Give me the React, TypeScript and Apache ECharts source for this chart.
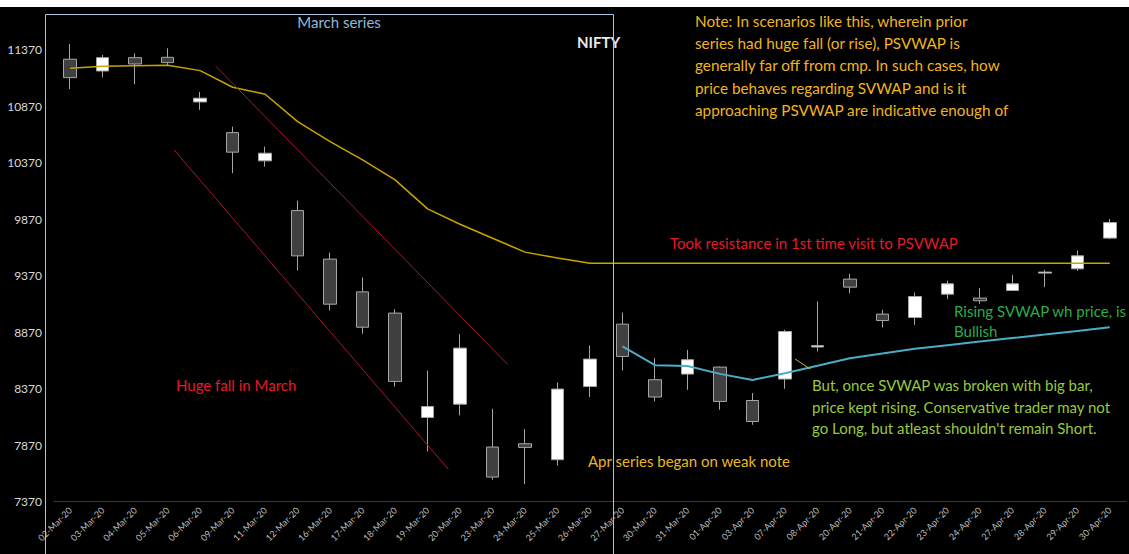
import React, { useEffect, useRef } from "react";
import * as echarts from "echarts";

const dates = [
  "02-Mar-20", "03-Mar-20", "04-Mar-20", "05-Mar-20", "06-Mar-20", "09-Mar-20", "11-Mar-20",
  "12-Mar-20", "16-Mar-20", "17-Mar-20", "18-Mar-20", "19-Mar-20", "20-Mar-20", "23-Mar-20",
  "24-Mar-20", "25-Mar-20", "26-Mar-20", "27-Mar-20", "30-Mar-20", "31-Mar-20", "01-Apr-20",
  "03-Apr-20", "07-Apr-20", "08-Apr-20", "20-Apr-20", "21-Apr-20", "22-Apr-20", "23-Apr-20",
  "24-Apr-20", "27-Apr-20", "28-Apr-20", "29-Apr-20", "30-Apr-20",
];

const opens = [
  11288, 11184, 11302, 11305, 10910, 10638, 10388, 9948, 9518, 9228, 9040, 8116, 8234, 7854,
  7883, 7742, 8390, 8942, 8450, 8500, 8562, 8266, 8456, 8740, 9341, 9031, 9001, 9208, 9173,
  9240, 9394, 9432, 9704,
];
const closes = [
  11125, 11302, 11246, 11258, 10943, 10465, 10456, 9547, 9119, 8915, 8435, 8213, 8730, 7588,
  7851, 8367, 8633, 8656, 8297, 8627, 8258, 8080, 8877, 8752, 9270, 8974, 9187, 9299, 9149,
  9299, 9403, 9547, 9842,
];
const lows = [
  11025, 11128, 11066, 11228, 10839, 10279, 10337, 9417, 9063, 8857, 8390, 7815, 8134, 7565,
  7527, 7689, 8296, 8532, 8258, 8361, 8184, 8051, 8370, 8700, 9217, 8912, 8936, 9166, 9122,
  9235, 9270, 9414, 9695,
];
const highs = [
  11423, 11326, 11341, 11385, 10998, 10691, 10514, 10036, 9576, 9355, 9075, 8532, 8854, 8193,
  8013, 8426, 8754, 9045, 8641, 8715, 8567, 8332, 8892, 9143, 9388, 9069, 9222, 9328, 9261,
  9379, 9423, 9594, 9874,
];

// Previous-series VWAP (yellow)
const psvwap = [
  11208, 11226, 11231, 11234, 11187, 11040, 10978, 10735, 10559, 10397, 10220, 9963, 9827,
  9703, 9580, 9527, 9482, 9482, 9482, 9482, 9482, 9482, 9482, 9482, 9482, 9482, 9482, 9482,
  9482, 9482, 9482, 9482, 9482,
];
// Current-series VWAP (cyan), starts with April series
const svwap = [
  null, null, null, null, null, null, null, null, null, null, null, null, null, null, null,
  null, null, 8746, 8579, 8572, 8502, 8448, 8508, 8574, 8641, 8683, 8725, 8756, 8788, 8819,
  8850, 8882, 8915,
];

// Hand-drawn trend lines (x = category index, y = price)
const trendUpper = [[4.48, 11226], [13.46, 8587]];
const trendLower = [[3.2, 10484], [11.64, 7657]];
const pointerLine = [[22.31, 8634], [22.79, 8543]];

const yMin = 7370;
const yMax = 11870;
const yStep = 500;

const noteLines = [
  "Note: In scenarios like this, wherein prior",
  "series had huge fall (or rise), PSVWAP is",
  "generally far off from cmp. In such cases, how",
  "price behaves regarding SVWAP and is it",
  "approaching PSVWAP are indicative enough of",
];
const butLines = [
  "But, once SVWAP was broken with big bar,",
  "price kept rising. Conservative trader may not",
  "go Long, but atleast shouldn't remain Short.",
];
const risingLines = ["Rising SVWAP wh price, is", "Bullish"];

const FONT = "Lato, 'Noto Sans', sans-serif";

function txt(text: string, x: number, y: number, fill: string, size = 15, extra: any = {}) {
  return {
    type: "text",
    x,
    y,
    z: 100,
    silent: true,
    style: {
      text,
      fill,
      font: `${extra.weight || "normal"} ${size}px ${FONT}`,
      align: extra.align || "left",
      textAlign: extra.align || "left",
      verticalAlign: "middle",
      textVerticalAlign: "middle",
    },
  };
}

export default function App() {
  const ref = useRef<HTMLDivElement>(null);

  useEffect(() => {
    if (!ref.current) return;
    const chart = echarts.init(ref.current, null, { renderer: "svg" });

    const candleData = dates.map((_, i) => [opens[i], closes[i], lows[i], highs[i]]);

    const graphics: any[] = [
      {
        type: "rect",
        z: 90,
        silent: true,
        shape: { x: 0, y: 0, width: 1129, height: 7 },
        style: { fill: "#ffffff" },
      },
      {
        type: "rect",
        z: 101,
        silent: true,
        shape: { x: 45.5, y: 14.5, width: 568, height: 545 },
        style: { fill: "none", stroke: "#a9c6de", lineWidth: 1 },
      },
      txt("March series", 339, 22, "#8fb8d8", 15, { align: "center" }),
      txt("NIFTY", 577, 42, "#e8e8e8", 15, { weight: "bold" }),
      ...noteLines.map((l, i) => txt(l, 695, 20.5 + i * 22.4, "#f0b41e", 15.3)),
      txt("Took resistance in 1st time visit to PSVWAP", 670, 243, "#e31b2b", 15),
      ...risingLines.map((l, i) => txt(l, 954, 311 + i * 20, "#2eaa4a", 15)),
      txt("Huge fall in March", 176, 385, "#e31b2b", 15),
      ...butLines.map((l, i) => txt(l, 812, 385 + i * 21.5, "#98c83e", 15)),
      txt("Apr series began on weak note", 588, 461, "#eab620", 15),
    ];

    chart.setOption({
      animation: false,
      backgroundColor: "#000000",
      grid: {
        left: 54,
        right: 3,
        top: -6.5,
        bottom: 52.3,
        containLabel: false,
        outerBoundsMode: "none",
      },
      xAxis: [
        {
          type: "category",
          data: dates,
          boundaryGap: true,
          axisLine: { show: true, lineStyle: { color: "#3a3a3a", width: 1 } },
          axisTick: { show: false },
          splitLine: { show: false },
          axisLabel: {
            interval: 0,
            rotate: 45,
            margin: 7,
            color: "#bdbdbd",
            fontSize: 9,
            fontFamily: FONT,
          },
        },
        {
          type: "value",
          show: false,
          min: -0.5,
          max: dates.length - 0.5,
          splitLine: { show: false },
        },
      ],
      yAxis: {
        type: "value",
        min: yMin,
        max: yMax,
        interval: yStep,
        axisLine: { show: false },
        axisTick: { show: false },
        splitLine: { show: false },
        axisLabel: {
          color: "#d9d9d9",
          fontSize: 12,
          fontFamily: FONT,
          margin: 12,
          showMaxLabel: false,
          formatter: (v: number) => String(Math.round(v)),
        },
      },
      series: [
        {
          type: "candlestick",
          data: candleData,
          barWidth: 13,
          itemStyle: {
            color: "#ffffff",
            color0: "#404040",
            borderColor: "#a6a6a6",
            borderColor0: "#a6a6a6",
            borderColorDoji: "#c8c8c8",
            borderWidth: 1,
          },
        },
        {
          type: "line",
          data: psvwap,
          symbol: "none",
          lineStyle: { color: "#c9a400", width: 1.5 },
          z: 3,
        },
        {
          type: "line",
          data: svwap,
          symbol: "none",
          connectNulls: false,
          lineStyle: { color: "#4bacc6", width: 2 },
          z: 3,
        },
        {
          type: "line",
          xAxisIndex: 1,
          data: trendUpper,
          symbol: "none",
          lineStyle: { color: "#a8182a", width: 1 },
          z: 3,
        },
        {
          type: "line",
          xAxisIndex: 1,
          data: trendLower,
          symbol: "none",
          lineStyle: { color: "#a8182a", width: 1 },
          z: 3,
        },
        {
          type: "line",
          xAxisIndex: 1,
          data: pointerLine,
          symbol: "none",
          lineStyle: { color: "#b9b53c", width: 1 },
          z: 3,
        },
      ],
      graphic: graphics,
    });

    return () => {
      chart.dispose();
    };
  }, []);

  return (
    <div
      ref={ref}
      style={{ position: "fixed", left: 0, top: 0, width: 1129, height: 554 }}
    />
  );
}
